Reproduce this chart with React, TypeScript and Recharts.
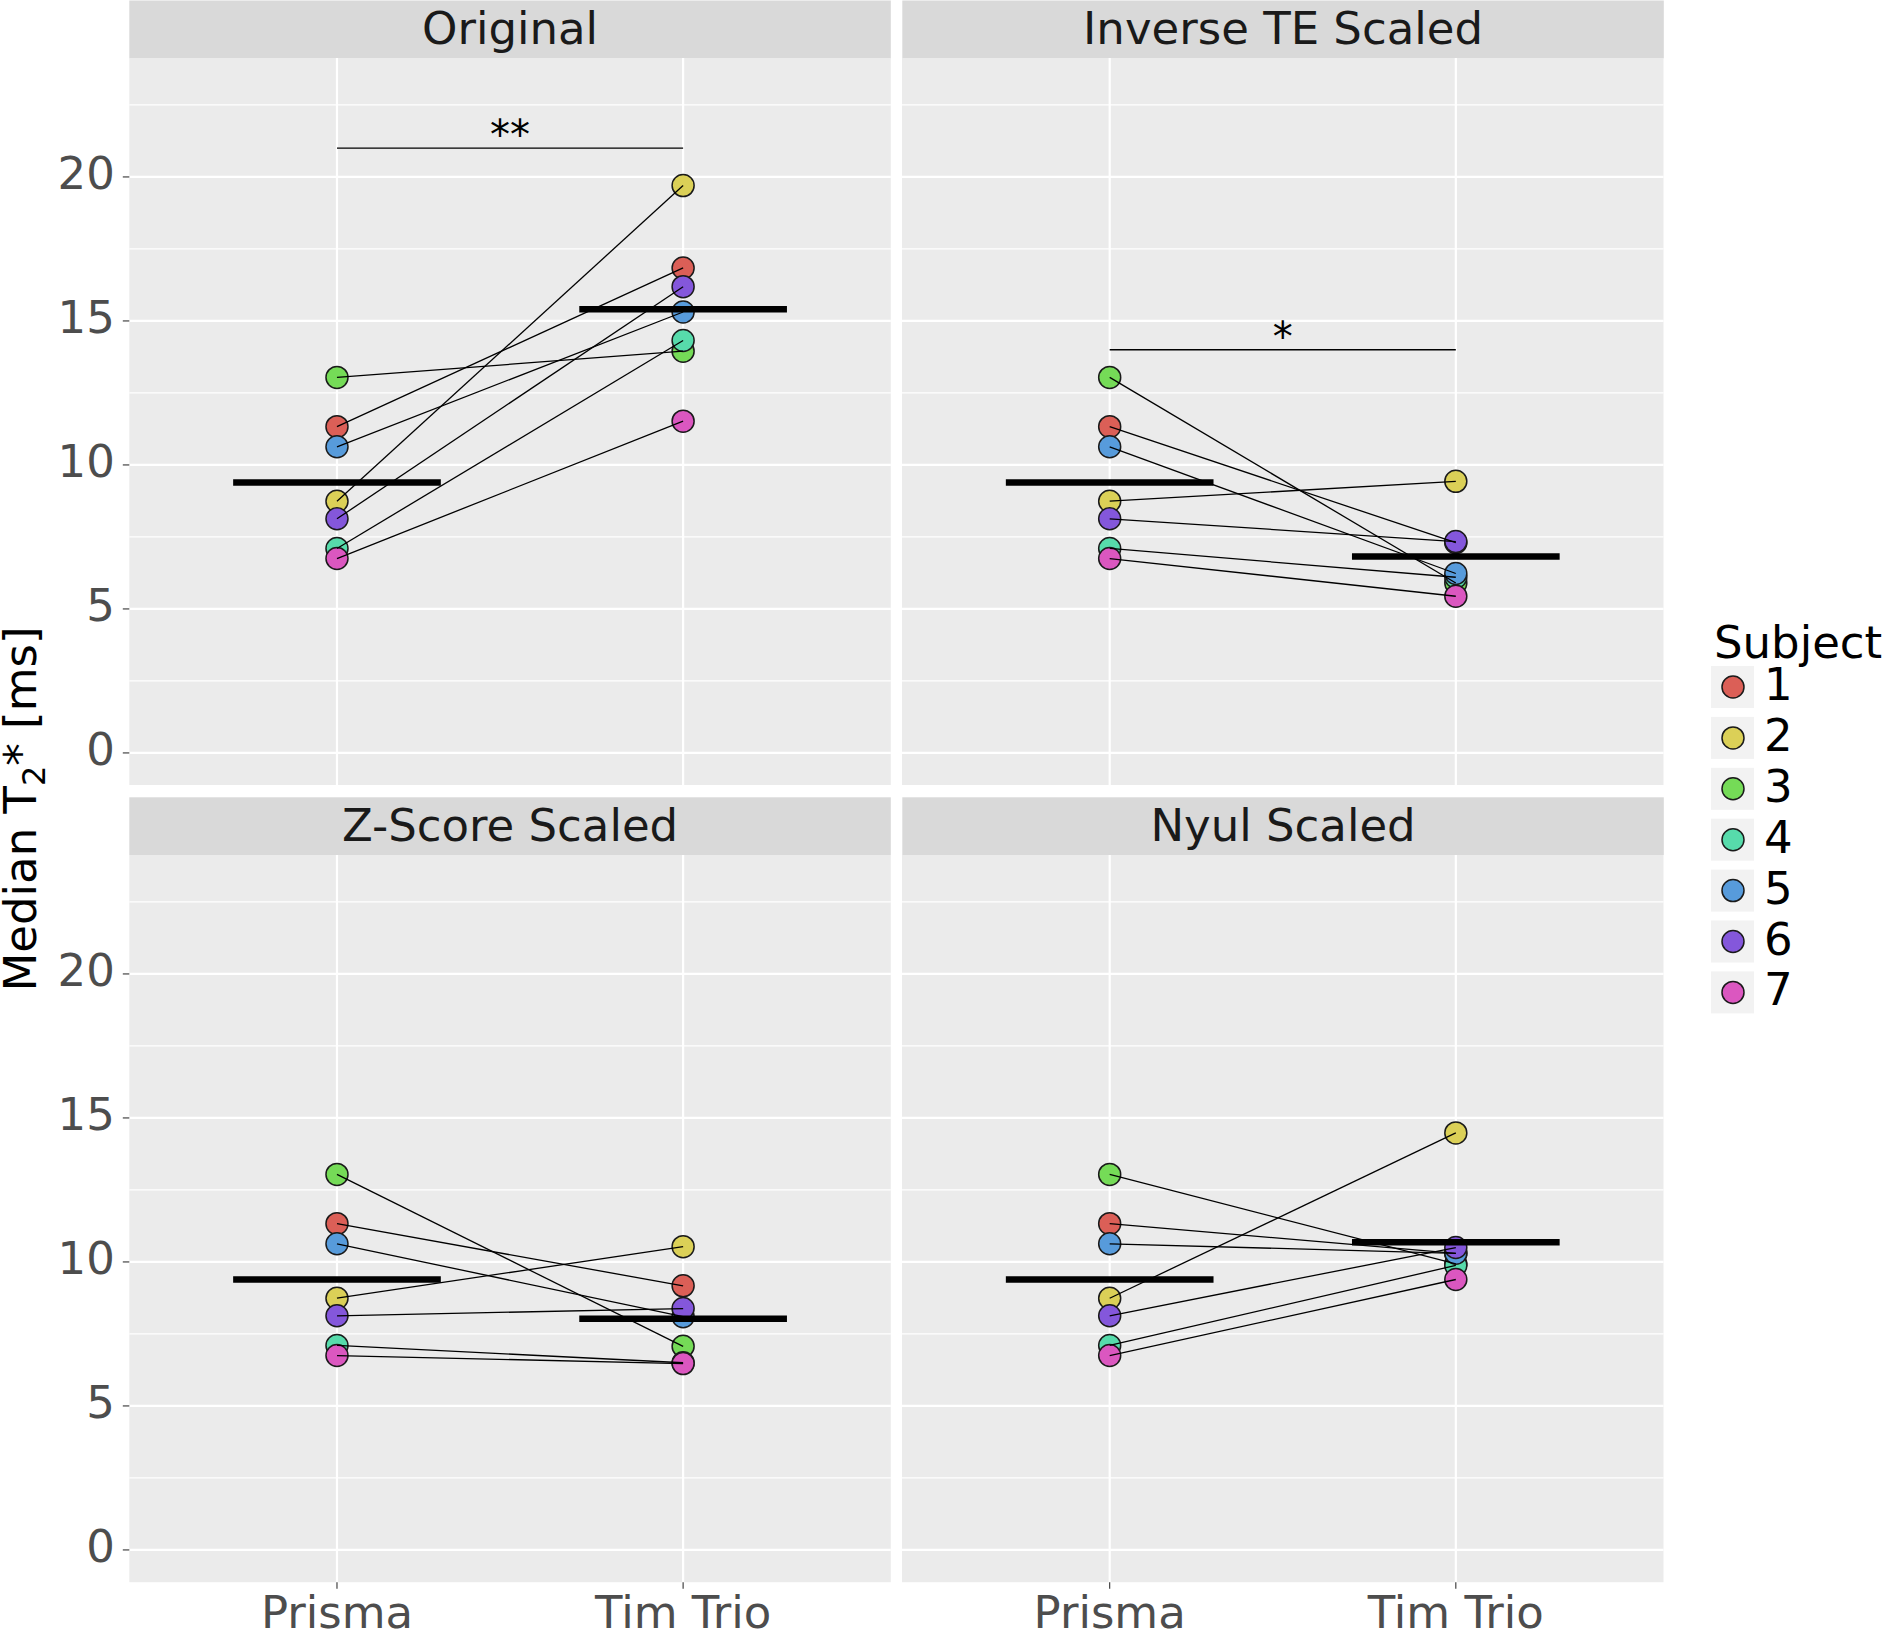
import React from 'react';
import {
  ComposedChart,
  Line,
  Scatter,
  XAxis,
  YAxis,
  CartesianGrid,
  ReferenceLine,
} from 'recharts';

const FONT = '"DejaVu Sans", sans-serif';

// Subjects and their colours (hue palette)
const subjects = ['1', '2', '3', '4', '5', '6', '7'];
const subjectColors = ['#db5f57', '#dbd057', '#75db57', '#57dbab', '#579bdb', '#8457db', '#db57c0'];
const scanners = ['Prisma', 'Tim Trio'];

// Median T2* per subject
const prismaValues = [11.33, 8.74, 13.04, 7.1, 10.63, 8.13, 6.75];
const timTrioOriginal = [16.84, 19.7, 13.95, 14.32, 15.31, 16.19, 11.52];
const timTrioInverseTE = [7.3, 9.43, 5.9, 6.1, 6.23, 7.34, 5.44];
const timTrioZScore = [9.17, 10.53, 7.07, 6.5, 8.1, 8.38, 6.47];
const timTrioNyul = [10.3, 14.48, 9.93, 9.88, 10.3, 10.5, 9.39];

const panelTitles = ['Original', 'Inverse TE Scaled', 'Z-Score Scaled', 'Nyul Scaled'];
const panelTimTrio = [timTrioOriginal, timTrioInverseTE, timTrioZScore, timTrioNyul];
const sigLevels = [21, 14, null, null];
const sigLabels = ['**', '*', '', ''];

const yTicks = [0, 5, 10, 15, 20];
const yMinorTicks = [2.5, 7.5, 12.5, 17.5, 22.5];
const yDomain: [number, number] = [-1.12, 24.13];

const mean = (arr: number[]) => arr.reduce((a, b) => a + b, 0) / arr.length;

// layout (px)
const COL_X = [0, 902.3];
const AXIS_W = 129.3;
const PANEL_W = 761.5;
const ROW_Y = [58.3, 855];
const PANEL_H = 727.2;
const X_AXIS_H = 48.7;
const STRIP_Y = [0.5, 797.3];

const YTick = (props: any) => (
  <text x={props.x} y={props.y} dy={12} textAnchor="end" fill="#4d4d4d" fontSize={45} fontFamily={FONT}>
    {props.payload.value}
  </text>
);

const XTick = (props: any) => (
  <text x={props.x} y={props.y} dy={37} textAnchor="middle" fill="#4d4d4d" fontSize={45} fontFamily={FONT}>
    {scanners[props.payload.value - 1]}
  </text>
);

type PanelProps = {
  idx: number;
};

const Panel: React.FC<PanelProps> = ({ idx }) => {
  const col = idx % 2;
  const row = Math.floor(idx / 2);
  const showY = col === 0;
  const showX = row === 1;
  const tim = panelTimTrio[idx];
  const mPrisma = mean(prismaValues);
  const mTim = mean(tim);
  const sig = sigLevels[idx];
  const width = (showY ? AXIS_W : 0) + PANEL_W;
  const height = PANEL_H + (showX ? X_AXIS_H : 0);

  return (
    <div style={{ position: 'absolute', left: showY ? COL_X[col] : COL_X[col], top: ROW_Y[row] }}>
      <ComposedChart width={width} height={height} margin={{ top: 0, right: 0, bottom: 0, left: 0 }}>
        <CartesianGrid
          fill="#ebebeb"
          stroke="#ffffff"
          strokeWidth={1.2}
          vertical={false}
          horizontalValues={yMinorTicks}
        />
        <CartesianGrid
          stroke="#ffffff"
          strokeWidth={2.2}
          horizontalValues={yTicks}
          verticalValues={[1, 2]}
        />
        <XAxis
          type="number"
          dataKey="x"
          domain={[0.4, 2.6]}
          ticks={[1, 2]}
          interval={0}
          allowDataOverflow
          hide={!showX}
          height={X_AXIS_H}
          axisLine={false}
          tickSize={6.5}
          tickLine={{ stroke: '#333333', strokeWidth: 1.1 }}
          tick={XTick}
        />
        <YAxis
          type="number"
          dataKey="y"
          domain={yDomain}
          ticks={yTicks}
          interval={0}
          allowDataOverflow
          hide={!showY}
          width={AXIS_W}
          axisLine={false}
          tickSize={6.5}
          tickMargin={8}
          tickLine={{ stroke: '#333333', strokeWidth: 1.1 }}
          tick={YTick}
        />
        {subjects.map((s, i) => (
          <Scatter
            key={'pt' + s}
            name={s}
            data={[
              { x: 1, y: prismaValues[i] },
              { x: 2, y: tim[i] },
            ]}
            zIndex={300}
            isAnimationActive={false}
            shape={(p: any) => (
              <circle cx={p.cx} cy={p.cy} r={11} fill={subjectColors[i]} stroke="#1a1a1a" strokeWidth={1.5} />
            )}
          />
        ))}
        {subjects.map((s, i) => (
          <Line
            key={'ln' + s}
            data={[
              { x: 1, y: prismaValues[i] },
              { x: 2, y: tim[i] },
            ]}
            dataKey="y"
            type="linear"
            stroke="#000000"
            strokeWidth={1.3}
            dot={false}
            activeDot={false}
            zIndex={400}
            isAnimationActive={false}
          />
        ))}
        <ReferenceLine
          segment={[{ x: 0.7, y: mPrisma }, { x: 1.3, y: mPrisma }]}
          stroke="#000000"
          strokeWidth={6.5}
          zIndex={700}
        />
        <ReferenceLine
          segment={[{ x: 1.7, y: mTim }, { x: 2.3, y: mTim }]}
          stroke="#000000"
          strokeWidth={6.5}
          zIndex={700}
        />
        {sig !== null && (
          <ReferenceLine
            segment={[{ x: 1, y: sig }, { x: 2, y: sig }]}
            stroke="#000000"
            strokeWidth={1.4}
            zIndex={700}
            label={(lp: any) => {
              const vb = lp.viewBox || {};
              return (
                <text
                  x={vb.x + (vb.width || 0) / 2}
                  y={vb.y + 1}
                  textAnchor="middle"
                  fontSize={40}
                  fill="#000000"
                  fontFamily={FONT}
                >
                  {sigLabels[idx]}
                </text>
              );
            }}
          />
        )}
      </ComposedChart>
    </div>
  );
};

const App: React.FC = () => {
  return (
    <div
      style={{
        position: 'absolute',
        left: 0,
        top: 0,
        width: 1883,
        height: 1631,
        background: '#ffffff',
        overflow: 'hidden',
        fontFamily: FONT,
      }}
    >
      <svg width={1883} height={1631} style={{ position: 'absolute', left: 0, top: 0 }}>
        {/* facet strips */}
        {panelTitles.map((t, idx) => {
          const col = idx % 2;
          const row = Math.floor(idx / 2);
          const x0 = COL_X[col] + AXIS_W * (col === 0 ? 1 : 0);
          const y0 = STRIP_Y[row];
          const h = ROW_Y[row] - y0;
          return (
            <g key={t}>
              <rect x={x0} y={y0} width={PANEL_W} height={h} fill="#d9d9d9" />
              <text
                x={x0 + PANEL_W / 2}
                y={y0 + h / 2 + 15}
                textAnchor="middle"
                fontSize={45}
                fill="#1a1a1a"
                fontFamily={FONT}
              >
                {t}
              </text>
            </g>
          );
        })}
        {/* y-axis title */}
        <text
          x={36}
          y={809}
          transform="rotate(-90, 36, 809)"
          textAnchor="middle"
          fontSize={45}
          fill="#000000"
          fontFamily={FONT}
        >
          Median T<tspan fontSize={32} dy={9}>2</tspan>
          <tspan dy={-9}>* [ms]</tspan>
        </text>
        {/* legend */}
        <text x={1714} y={658} fontSize={45} fill="#000000" fontFamily={FONT}>
          Subject
        </text>
        {subjects.map((s, i) => {
          const cy = 687 + i * 50.9;
          return (
            <g key={'lg' + s}>
              <rect x={1711} y={cy - 21} width={43} height={42} fill="#f2f2f2" />
              <circle cx={1733} cy={cy} r={11} fill={subjectColors[i]} stroke="#1a1a1a" strokeWidth={1.5} />
              <text x={1764} y={cy + 13} fontSize={45} fill="#000000" fontFamily={FONT}>
                {s}
              </text>
            </g>
          );
        })}
      </svg>
      {panelTitles.map((t, idx) => (
        <Panel key={t} idx={idx} />
      ))}
    </div>
  );
};

export default App;
